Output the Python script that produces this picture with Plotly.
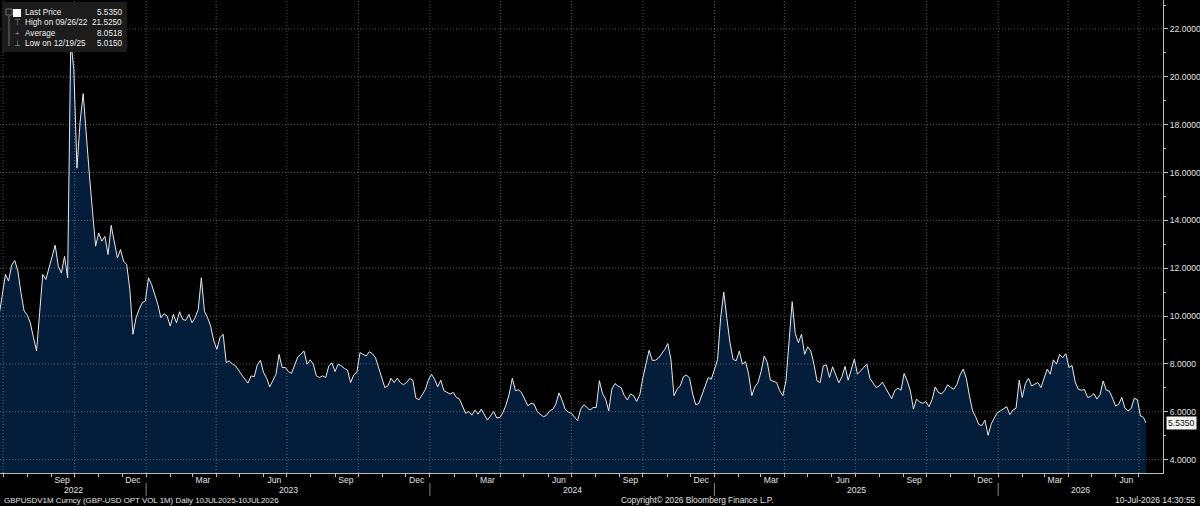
import pandas as pd
import plotly.graph_objects as go

# ---------------- data ----------------
series_start = "2022-06-26"     # first observation, one every 4 days
series_step_days = 4
vol_values = [
    10.07, 10.83, 11.74, 11.46, 12.13, 12.32, 11.88, 10.97, 10.21, 10.04, 9.72, 9.10, 8.54, 10.14, 11.74, 11.53,
    12.01, 12.57, 12.96, 12.08, 11.8, 12.5, 11.6,
    21.525, 20.3, 16.18, 18.1, 19.3, 17.4, 15.9, 14.38, 12.92, 13.47, 13.13, 13.33, 12.57, 13.79, 13.13, 12.43,
    12.78, 12.29, 12.15, 11.11, 9.24, 9.93, 10.28, 10.56, 10.63, 11.6, 11.32, 10.9, 10.49, 9.93, 10.1, 10.0,
    9.58, 10.07, 9.72, 10.18, 9.86, 9.82, 10.07, 9.72, 9.93, 10.28,
    11.6, 10.2, 9.93, 9.58, 8.96, 8.61, 9.1, 9.24, 8.06, 8.13, 7.99, 7.92, 7.71, 7.54, 7.36, 7.2, 7.5, 7.46,
    7.96, 8.15, 7.64, 7.4, 7.04, 7.29, 7.57, 8.4, 7.85, 7.85, 7.68, 7.6, 7.92, 8.29, 8.4, 8.54, 7.99, 8.17,
    7.99, 7.5, 7.43, 7.5, 7.43, 7.92, 8.04, 7.68, 7.99, 7.92, 7.81, 7.74, 7.22, 7.54, 7.64, 8.47, 8.4, 8.33,
    8.51, 8.43, 8.26, 7.85, 7.43, 7.01, 7.08,
    7.4, 7.22, 7.4, 7.22, 7.13, 7.22, 7.39, 7.32, 6.57, 6.5, 6.71, 6.92, 7.32, 7.57, 7.36, 7.04, 7.32, 6.88,
    6.81, 6.74, 6.81, 6.6, 6.53, 6.22, 5.93, 6.01, 5.86, 6.07, 5.9, 6.11, 5.9, 5.65, 5.83, 6.01, 5.74, 5.76,
    5.97, 6.29, 6.74, 7.4, 6.88, 6.92, 6.79, 6.51, 6.25, 6.35, 6.32, 6.01, 5.9, 5.79, 5.85, 6.04, 6.1, 6.32,
    6.79, 6.49, 6.1, 5.99,
    5.93, 5.76, 5.63, 6.11, 6.29, 6.18, 6.07, 6.18, 6.18, 7.3, 6.76, 6.53, 6.04, 6.94, 7.18, 7.07, 7.01, 6.68,
    6.49, 6.74, 6.67, 6.43, 6.71, 7.43, 7.99, 8.57, 8.15, 8.15, 8.24, 8.4, 8.6, 8.85, 8.2, 6.67, 6.94, 7.08,
    7.46, 7.54, 7.4, 6.74, 6.29, 6.35, 6.74, 7.04, 7.43, 7.36, 7.82, 8.18, 9.93, 11.0, 9.9, 8.89, 8.19, 8.13,
    8.54, 7.99, 8.1, 7.57, 6.67, 7.04, 7.22, 7.68, 8.33, 8.06,
    7.32, 7.26, 7.22, 6.88, 6.67, 7.29, 8.89, 10.6, 9.26, 8.89, 9.24, 8.4, 8.71, 8.54, 7.99, 7.29, 7.22, 7.92,
    7.96, 7.43, 7.88, 7.51, 7.21, 7.46, 7.9, 7.32, 7.74, 8.2, 7.57, 7.71, 7.82, 7.99, 7.4, 7.18, 7.01, 7.08,
    7.24, 7.01, 6.78, 6.54, 6.88, 6.99, 6.9, 7.6, 7.29, 6.88, 6.11, 6.53, 6.4, 6.35, 6.43, 6.21, 6.51, 7.04,
    6.81, 6.74, 6.88, 7.13,
    7.01, 6.94, 7.15, 7.54, 7.78, 7.4, 6.67, 6.04, 5.79, 5.47, 5.42, 5.65, 5.015, 5.49, 5.74, 5.97, 6.04, 6.11,
    6.21, 5.88, 6.07, 6.15, 7.32, 6.6, 7.18, 7.4, 7.08, 7.15, 7.22, 7.01, 7.43, 7.78, 7.57, 8.17, 7.99, 8.4,
    8.26, 8.43, 7.85, 7.93, 7.25, 6.94, 6.9, 6.93, 6.6, 6.63, 6.76, 6.53, 6.71, 7.29, 6.9, 6.86, 6.57, 6.24,
    6.31, 6.6, 6.15, 6.04, 6.13, 6.56, 6.51, 5.83, 5.76,
]
last_date = "2026-07-10"
last_value = 5.535

# axis / labels
x_range = ["2022-06-27", "2026-08-01"]
y_range = [3.44, 23.21]
y_ticks = [4, 6, 8, 10, 12, 14, 16, 18, 20, 22]
month_ticks = ["2022-09-15", "2022-12-15", "2023-03-15", "2023-06-15", "2023-09-15", "2023-12-15",
               "2024-03-15", "2024-06-15", "2024-09-15", "2024-12-15", "2025-03-15", "2025-06-15",
               "2025-09-15", "2025-12-15", "2026-03-15", "2026-06-15"]
month_labels = ["Sep", "Dec", "Mar", "Jun", "Sep", "Dec", "Mar", "Jun",
                "Sep", "Dec", "Mar", "Jun", "Sep", "Dec", "Mar", "Jun"]
years = ["2022", "2023", "2024", "2025", "2026"]

legend_rows = [("Last Price", "5.5350"), ("High on 09/26/22", "21.5250"),
               ("Average", "8.0518"), ("Low on 12/19/25", "5.0150")]
footer_left = "GBPUSDV1M Curncy (GBP-USD OPT VOL 1M) Daily 10JUL2025-10JUL2026"
footer_mid = "Copyright\u00a9 2026 Bloomberg Finance L.P."
footer_right = "10-Jul-2026 14:30:55"

# ---------------- figure ----------------
W, H = 1200, 506
ML, MR, MT, MB = 0, 37, 0, 33
PW, PH = W - ML - MR, H - MT - MB
FONT = "Liberation Sans, Arial, sans-serif"
FS = 8.6
TXT = "#e0e0e0"
AXC = "#bdbdbd"
GRID = "rgba(255,255,255,0.33)"
DOT = "1px,2px"


def px(xp):
    return xp / PW


def py(yp):
    return 1 - yp / PH


def below(yp):
    return -(yp - PH) / PH


dates = list(pd.date_range(series_start, periods=len(vol_values), freq=f"{series_step_days}D"))
dates.append(pd.Timestamp(last_date))
vals = vol_values + [last_value]

fig = go.Figure()
fig.add_trace(go.Scatter(
    x=dates, y=vals, mode="lines",
    line=dict(color="#e8e8e8", width=1),
    fill="tozeroy", fillcolor="#041d3a",
    hoverinfo="skip",
))

shapes = []
# dotted grid (drawn above the fill, like the reference)
grid_dates = pd.date_range("2022-07-01", "2026-07-01", freq="QS")
for d in grid_dates:
    shapes.append(dict(type="line", xref="x", yref="paper", x0=d, x1=d, y0=0, y1=1,
                       line=dict(color=GRID, width=1, dash=DOT), layer="above"))
for v in y_ticks:
    shapes.append(dict(type="line", xref="paper", yref="y", x0=0, x1=1, y0=v, y1=v,
                       line=dict(color=GRID, width=1, dash=DOT), layer="above"))
# year separators under the axis
for y in years[1:]:
    shapes.append(dict(type="line", xref="x", yref="paper", x0=f"{y}-01-01", x1=f"{y}-01-01",
                       y0=below(483), y1=below(496),
                       line=dict(color="#8a8a8a", width=1), layer="above"))

# legend box
shapes.append(dict(type="rect", xref="paper", yref="paper", x0=px(2), x1=px(127), y0=py(52), y1=py(2),
                   fillcolor="#1c1c1c", line=dict(width=0), layer="above"))
shapes.append(dict(type="line", xref="paper", yref="paper", x0=px(9), x1=px(9), y0=py(16), y1=py(46),
                   line=dict(color="#6e6e6e", width=1), layer="above"))
shapes.append(dict(type="rect", xref="paper", yref="paper", x0=px(6), x1=px(12), y0=py(15), y1=py(9),
                   line=dict(color="#6e6e6e", width=1), fillcolor="rgba(0,0,0,0)", layer="above"))
shapes.append(dict(type="rect", xref="paper", yref="paper", x0=px(13), x1=px(21), y0=py(17), y1=py(9),
                   line=dict(width=0), fillcolor="#ffffff", layer="above"))

annotations = []
icons = ["", "\u22a4", "+", "\u22a5"]
row_y = [13, 23, 33, 43]
for (lab, val), ic, ry in zip(legend_rows, icons, row_y):
    annotations.append(dict(xref="paper", yref="paper", x=px(23), y=py(ry), text=lab, showarrow=False,
                            xanchor="left", yanchor="middle", font=dict(family=FONT, size=8.2, color="#ededed")))
    annotations.append(dict(xref="paper", yref="paper", x=px(124), y=py(ry), text=val, showarrow=False,
                            xanchor="right", yanchor="middle", font=dict(family=FONT, size=8.2, color="#ededed")))
    if ic:
        annotations.append(dict(xref="paper", yref="paper", x=px(17), y=py(ry), text=ic, showarrow=False,
                                xanchor="center", yanchor="middle", font=dict(family=FONT, size=8, color="#9a9a9a")))

# year labels centred in their visible segments
x0 = pd.Timestamp(x_range[0])
x1 = pd.Timestamp(x_range[1])
for y in years:
    a = max(pd.Timestamp(f"{y}-01-01"), x0)
    b = min(pd.Timestamp(f"{int(y) + 1}-01-01"), x1)
    annotations.append(dict(xref="x", yref="paper", x=a + (b - a) / 2, y=below(490), text=y,
                            showarrow=False, xanchor="center", yanchor="middle",
                            font=dict(family=FONT, size=FS, color=TXT)))

# footer
annotations.append(dict(xref="paper", yref="paper", x=px(2), y=below(500), text=footer_left,
                        showarrow=False, xanchor="left", yanchor="middle", font=dict(family=FONT, size=7.9, color=TXT)))
annotations.append(dict(xref="paper", yref="paper", x=px(619), y=below(500), text=footer_mid,
                        showarrow=False, xanchor="left", yanchor="middle", font=dict(family=FONT, size=8.3, color=TXT)))
annotations.append(dict(xref="paper", yref="paper", x=px(1198), y=below(500), text=footer_right,
                        showarrow=False, xanchor="right", yanchor="middle", font=dict(family=FONT, size=8.5, color=TXT)))

# last price tag on the value axis
annotations.append(dict(xref="paper", yref="y", x=1, y=last_value, xshift=3, text=f"{last_value:.4f}",
                        showarrow=False, xanchor="left", yanchor="middle", bgcolor="#f4f4f4",
                        borderpad=1, font=dict(family=FONT, size=FS, color="#111111")))

month_starts = pd.date_range("2022-07-01", "2026-07-01", freq="MS")

fig.update_layout(
    width=W, height=H,
    margin=dict(l=ML, r=MR, t=MT, b=MB),
    paper_bgcolor="#000000", plot_bgcolor="#000000",
    showlegend=False,
    font=dict(family=FONT, size=FS, color=TXT),
    shapes=shapes, annotations=annotations,
    xaxis=dict(
        type="date", range=x_range, tickmode="array", tickvals=month_ticks, ticktext=month_labels,
        ticks="", showgrid=False, zeroline=False, showline=True, linecolor=AXC, linewidth=1,
        ticklabelstandoff=-1,
        tickfont=dict(family=FONT, size=FS, color=TXT),
        minor=dict(tickmode="array", tickvals=list(month_starts), ticks="outside", ticklen=3,
                   tickcolor=AXC, showgrid=False),
    ),
    yaxis=dict(
        side="right", range=y_range, tickmode="array", tickvals=y_ticks, tickformat=".4f",
        ticks="outside", ticklen=4, tickcolor=AXC, showgrid=False, zeroline=False,
        showline=True, linecolor=AXC, linewidth=1,
        tickfont=dict(family=FONT, size=FS, color=TXT),
        minor=dict(dtick=1, ticks="outside", ticklen=2, tickcolor=AXC, showgrid=False),
    ),
)

fig.write_html("out.html")
